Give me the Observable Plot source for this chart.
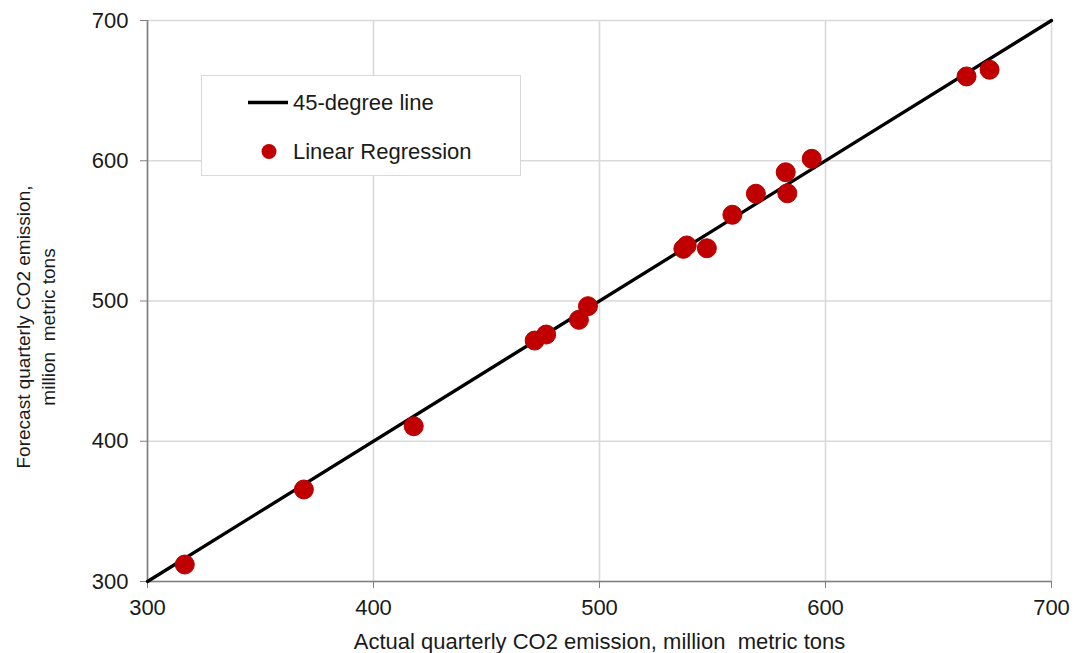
<!DOCTYPE html>
<html>
<head>
<meta charset="utf-8">
<script src="https://cdn.jsdelivr.net/npm/d3@7"></script>
<script src="https://cdn.jsdelivr.net/npm/@observablehq/plot@0.6"></script>
<style>
  html, body { margin: 0; padding: 0; background: white; }
  #wrap { position: relative; width: 1082px; height: 653px; font-family: Arial, "Liberation Sans", sans-serif; }
  #wrap svg text { white-space: pre; }
  #legend { position: absolute; left: 201px; top: 75px; width: 318px; height: 99px; background: white; border: 1px solid #d9d9d9; }
</style>
</head>
<body>
<div id="wrap"></div>
<script>
// Actual quarterly CO2 emission (x) and forecast (y), million metric tons
const actual   = [316.5, 369.2, 417.8, 471.3, 476.4, 490.9, 494.9, 537.1, 538.6, 547.5, 558.8, 569.2, 582.4, 583.1, 593.9, 662.4, 672.6];
const forecast = [312.1, 365.6, 410.7, 471.8, 476.1, 486.6, 496.3, 537.2, 539.6, 537.6, 561.5, 576.5, 591.8, 576.8, 601.4, 660.1, 664.9];
const ticks = [300, 400, 500, 600, 700];
const diagonal = [300, 700];
const seriesNames = ["45-degree line", "Linear Regression"];
const xTitle = "Actual quarterly CO2 emission, million  metric tons";
const yTitle = "Forecast quarterly CO2 emission,\nmillion  metric tons";

const points = actual.map((a, i) => ({actual: a, forecast: forecast[i]}));
const diag = diagonal.map(v => ({x: v, y: v}));

const chart = Plot.plot({
  width: 1082,
  height: 653,
  marginLeft: 147,
  marginRight: 31,
  marginTop: 20,
  marginBottom: 72,
  x: {domain: [300, 700]},
  y: {domain: [300, 700]},
  style: {fontFamily: "Arial, 'Liberation Sans', sans-serif", fontSize: "22px", color: "#1a1a1a", background: "white"},
  marks: [
    Plot.gridX(ticks, {stroke: "#d9d9d9", strokeOpacity: 1, strokeWidth: 1.6}),
    Plot.gridY(ticks, {stroke: "#d9d9d9", strokeOpacity: 1, strokeWidth: 1.6}),
    Plot.ruleX([300], {stroke: "#808080", strokeWidth: 1.6}),
    Plot.ruleY([300], {stroke: "#808080", strokeWidth: 1.6}),
    Plot.axisX(ticks, {tickSize: 7, tickPadding: 11, stroke: "#808080", fill: "#1a1a1a", label: null, fontSize: 22}),
    Plot.axisY(ticks, {tickSize: 7, tickPadding: 12, stroke: "#808080", fill: "#1a1a1a", label: null, fontSize: 22}),
    Plot.line(diag, {x: "x", y: "y", stroke: "black", strokeWidth: 3.3}),
    Plot.dot(points, {x: "actual", y: "forecast", r: 9.5, fill: "#c00000", stroke: "#b50000", strokeWidth: 1}),
    Plot.text([xTitle], {frameAnchor: "bottom", lineAnchor: "top", dy: 52, fontSize: 22, fill: "#1a1a1a"}),
    Plot.text([yTitle], {frameAnchor: "left", textAnchor: "middle", lineAnchor: "middle", rotate: -90, dx: -113, dy: 26, fontSize: 19, lineHeight: 1.3, fill: "#1a1a1a"})
  ]
});

const wrap = document.getElementById("wrap");
wrap.appendChild(chart);

// Legend box (overlay)
const legend = document.createElement("div");
legend.id = "legend";
legend.innerHTML = `
<svg width="318" height="99" style="display:block;font-family:Arial,'Liberation Sans',sans-serif;font-size:22px;fill:#1a1a1a">
  <line x1="46" x2="86" y1="26.5" y2="26.5" stroke="black" stroke-width="3.3"></line>
  <text x="91" y="26.5" dy="0.36em">${seriesNames[0]}</text>
  <circle cx="67" cy="75.5" r="7.5" fill="#c00000"></circle>
  <text x="91" y="75.5" dy="0.36em">${seriesNames[1]}</text>
</svg>`;
wrap.appendChild(legend);
</script>
</body>
</html>
